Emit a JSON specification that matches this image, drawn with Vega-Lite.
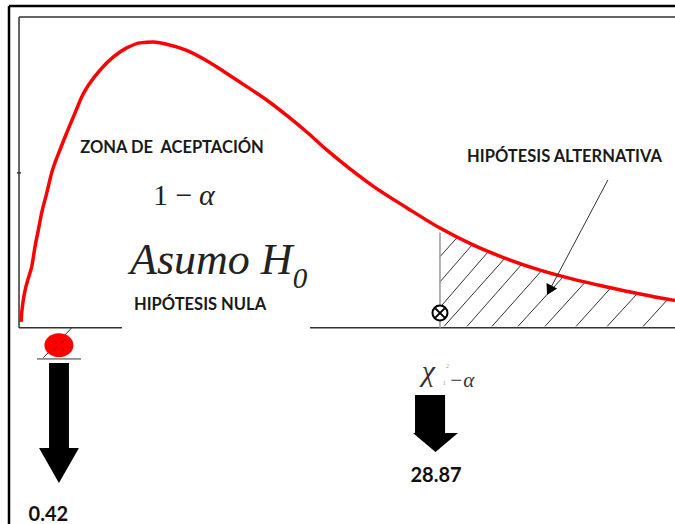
{
  "$schema": "https://vega.github.io/schema/vega-lite/v6.json",
  "width": 675,
  "height": 524,
  "autosize": {"type": "none"},
  "padding": 0,
  "background": "white",
  "config": {"view": {"stroke": null}},
  "datasets": {
    "outer": [
      {"x": -0.83, "y": 0.1149, "x2": -0.83, "y2": -0.07},
      {"x": -0.83, "y": 0.1149, "x2": 45.05, "y2": 0.1149}
    ],
    "inner": [
      {"x": -0.14, "y": 0.1109, "x2": 45.05, "y2": 0.1109},
      {"x": -0.14, "y": 0.1109, "x2": -0.14, "y2": 0},
      {"x": -0.14, "y": 0, "x2": 6.95, "y2": 0},
      {"x": 19.91, "y": 0, "x2": 45.05, "y2": 0},
      {"x": -0.28, "y": 0.0553, "x2": 0.0, "y2": 0.0553}
    ],
    "hatch": [
      {"x": 28.86, "y": 0.0254, "x2": 30.07, "y2": 0.0324},
      {"x": 28.86, "y": 0.0164, "x2": 31.07, "y2": 0.0296},
      {"x": 28.86, "y": 0.0073, "x2": 32.17, "y2": 0.0271},
      {"x": 29.14, "y": 0.0005, "x2": 33.34, "y2": 0.0249},
      {"x": 30.72, "y": 0.0005, "x2": 34.51, "y2": 0.0228},
      {"x": 32.44, "y": 0.0005, "x2": 35.89, "y2": 0.0206},
      {"x": 34.23, "y": 0.0005, "x2": 37.33, "y2": 0.0181},
      {"x": 36.09, "y": 0.0005, "x2": 38.88, "y2": 0.0164},
      {"x": 38.23, "y": 0.0005, "x2": 40.68, "y2": 0.0146},
      {"x": 40.37, "y": 0.0005, "x2": 42.47, "y2": 0.0123},
      {"x": 42.85, "y": 0.0005, "x2": 44.57, "y2": 0.0103},
      {"x": 1.53, "y": -0.0107, "x2": 3.49, "y2": 0.0},
      {"x": 1.10, "y": -0.0111, "x2": 4.13, "y2": -0.0111}
    ],
    "critical": [
      {"x": 28.86, "y": 0.0340, "x2": 28.86, "y2": 0}
    ],
    "pointer": [
      {"x": 40.43, "y": 0.0528, "x2": 36.40, "y2": 0.0134}
    ],
    "pointerHead": [
      {"x": 36.40, "y": 0.0134}
    ],
    "curve": [
      {"x": 0.0, "y": 0.0021}, {"x": 0.05, "y": 0.0057}, {"x": 0.57, "y": 0.0189},
      {"x": 0.73, "y": 0.0217}, {"x": 0.96, "y": 0.0289}, {"x": 1.19, "y": 0.0349},
      {"x": 1.42, "y": 0.0410}, {"x": 1.77, "y": 0.0481}, {"x": 2.11, "y": 0.0553},
      {"x": 2.68, "y": 0.0635}, {"x": 3.14, "y": 0.0695}, {"x": 3.72, "y": 0.0767},
      {"x": 4.18, "y": 0.0824}, {"x": 4.75, "y": 0.0874}, {"x": 5.44, "y": 0.0920},
      {"x": 6.36, "y": 0.0967}, {"x": 7.28, "y": 0.0999}, {"x": 8.19, "y": 0.1017},
      {"x": 9.11, "y": 0.1020}, {"x": 10.03, "y": 0.1012}, {"x": 11.41, "y": 0.0990},
      {"x": 12.79, "y": 0.0953}, {"x": 14.17, "y": 0.0908}, {"x": 15.55, "y": 0.0861},
      {"x": 16.92, "y": 0.0813}, {"x": 18.30, "y": 0.0758}, {"x": 19.68, "y": 0.0699},
      {"x": 21.06, "y": 0.0635}, {"x": 21.97, "y": 0.0596}, {"x": 24.25, "y": 0.0506},
      {"x": 26.59, "y": 0.0428}, {"x": 28.86, "y": 0.0356}, {"x": 31.13, "y": 0.0296},
      {"x": 33.48, "y": 0.0246}, {"x": 35.75, "y": 0.0206}, {"x": 38.02, "y": 0.0174},
      {"x": 40.37, "y": 0.0146}, {"x": 42.64, "y": 0.0121}, {"x": 44.91, "y": 0.0099},
      {"x": 45.05, "y": 0.0098}
    ],
    "lowerValue": [
      {"x": 2.61, "y": -0.0062}
    ],
    "upperValue": [
      {"x": 28.86, "y": 0.0053}
    ],
    "shafts": [
      {"x": 1.93, "x2": 3.30, "y": -0.0125, "y2": -0.0431},
      {"x": 27.14, "x2": 29.21, "y": -0.0240, "y2": -0.0377}
    ],
    "heads": [
      {"id": "a", "x": 1.24, "y": -0.0429, "y2": -0.0429},
      {"id": "a", "x": 2.61, "y": -0.0429, "y2": -0.0554},
      {"id": "a", "x": 3.99, "y": -0.0429, "y2": -0.0429},
      {"id": "b", "x": 27.00, "y": -0.0375, "y2": -0.0375},
      {"id": "b", "x": 28.55, "y": -0.0375, "y2": -0.0443},
      {"id": "b", "x": 30.10, "y": -0.0375, "y2": -0.0375}
    ],
    "labels": [
      {"x": 10.40, "y": 0.0642, "t": "ZONA DE\u00a0 ACEPTACIÓN"},
      {"x": 12.33, "y": 0.0082, "t": "HIPÓTESIS NULA"},
      {"x": 37.44, "y": 0.0610, "t": "HIPÓTESIS ALTERNATIVA"}
    ],
    "values": [
      {"x": 1.88, "y": -0.0668, "t": "0.42"},
      {"x": 28.59, "y": -0.0527, "t": "28.87"}
    ],
    "one": [{"x": 9.09, "y": 0.0438, "t": "1 −"}],
    "alpha": [{"x": 12.26, "y": 0.0438, "t": "α"}],
    "asumo": [{"x": 7.51, "y": 0.0192, "t": "Asumo H"}],
    "sub0": [{"x": 18.72, "y": 0.0142, "t": "0"}],
    "chi": [{"x": 27.60, "y": -0.0190, "t": "χ"}],
    "chiSub": [{"x": 29.48, "y": -0.0211, "t": "−α"}],
    "tiny": [
      {"x": 29.27, "y": -0.0143, "t": "2"},
      {"x": 29.05, "y": -0.0205, "t": "1"}
    ]
  },
  "encoding": {
    "x": {"field": "x", "type": "quantitative", "scale": {"domain": [-1.45, 45.05], "nice": false, "zero": false}, "axis": null},
    "y": {"field": "y", "type": "quantitative", "scale": {"domain": [-0.07, 0.117], "nice": false, "zero": false}, "axis": null}
  },
  "layer": [
    {
      "data": {"name": "outer"},
      "mark": {"type": "rule", "color": "black", "strokeWidth": 2.5},
      "encoding": {"x2": {"field": "x2"}, "y2": {"field": "y2"}}
    },
    {
      "data": {"name": "inner"},
      "mark": {"type": "rule", "color": "#333333", "strokeWidth": 1.5},
      "encoding": {"x2": {"field": "x2"}, "y2": {"field": "y2"}}
    },
    {
      "data": {"name": "hatch"},
      "mark": {"type": "rule", "color": "#333333", "strokeWidth": 1},
      "encoding": {"x2": {"field": "x2"}, "y2": {"field": "y2"}}
    },
    {
      "data": {"name": "critical"},
      "mark": {"type": "rule", "color": "#9a9a9a", "strokeWidth": 1.5},
      "encoding": {"x2": {"field": "x2"}, "y2": {"field": "y2"}}
    },
    {
      "data": {"name": "curve"},
      "mark": {"type": "line", "color": "#ff0000", "strokeWidth": 3.5, "interpolate": "monotone"},
      "encoding": {}
    },
    {
      "data": {"name": "pointer"},
      "mark": {"type": "rule", "color": "#333333", "strokeWidth": 1},
      "encoding": {"x2": {"field": "x2"}, "y2": {"field": "y2"}}
    },
    {
      "data": {"name": "pointerHead"},
      "mark": {"type": "point", "shape": "triangle-down", "size": 144, "filled": true, "color": "black", "opacity": 1, "angle": 27.6}
    },
    {
      "data": {"name": "lowerValue"},
      "mark": {"type": "point", "shape": "M1,0A1,0.82,0,1,1,-1,0A1,0.82,0,1,1,1,0Z", "size": 841, "filled": true, "color": "#ff0000", "opacity": 1}
    },
    {
      "data": {"name": "lowerValue"},
      "mark": {"type": "point", "shape": "M-0.5,-0.45L-0.22,-0.2M0.5,-0.45L0.22,-0.2M-0.5,0.45L-0.22,0.2M0.5,0.45L0.22,0.2", "size": 400, "filled": false, "color": "#b00000", "strokeWidth": 1.5, "opacity": 0.7}
    },
    {
      "data": {"name": "upperValue"},
      "mark": {"type": "point", "shape": "circle", "size": 225, "filled": true, "fill": "white", "stroke": "black", "strokeWidth": 2, "opacity": 1}
    },
    {
      "data": {"name": "upperValue"},
      "mark": {"type": "point", "shape": "M-0.62,-0.62L0.62,0.62M-0.62,0.62L0.62,-0.62", "size": 225, "filled": false, "color": "black", "strokeWidth": 2, "opacity": 1}
    },
    {
      "data": {"name": "shafts"},
      "mark": {"type": "rect", "color": "black"},
      "encoding": {"x2": {"field": "x2"}, "y2": {"field": "y2"}}
    },
    {
      "data": {"name": "heads"},
      "mark": {"type": "area", "color": "black", "opacity": 1},
      "encoding": {"y2": {"field": "y2"}, "detail": {"field": "id"}}
    },
    {
      "data": {"name": "labels"},
      "mark": {"type": "text", "font": "Lato", "fontWeight": "bold", "fontSize": 16.5, "color": "#1a1a1a", "align": "center", "baseline": "middle"},
      "encoding": {"text": {"field": "t"}}
    },
    {
      "data": {"name": "values"},
      "mark": {"type": "text", "font": "Lato", "fontWeight": "bold", "fontSize": 20, "color": "#111111", "align": "center", "baseline": "middle"},
      "encoding": {"text": {"field": "t"}}
    },
    {
      "data": {"name": "one"},
      "mark": {"type": "text", "font": "Liberation Serif", "fontSize": 30, "color": "#222222", "align": "left", "baseline": "alphabetic"},
      "encoding": {"text": {"field": "t"}}
    },
    {
      "data": {"name": "alpha"},
      "mark": {"type": "text", "font": "Liberation Serif", "fontStyle": "italic", "fontSize": 30, "color": "#222222", "align": "left", "baseline": "alphabetic"},
      "encoding": {"text": {"field": "t"}}
    },
    {
      "data": {"name": "asumo"},
      "mark": {"type": "text", "font": "Liberation Serif", "fontStyle": "italic", "fontSize": 44, "color": "#222222", "align": "left", "baseline": "alphabetic"},
      "encoding": {"text": {"field": "t"}}
    },
    {
      "data": {"name": "sub0"},
      "mark": {"type": "text", "font": "Liberation Serif", "fontStyle": "italic", "fontSize": 29, "color": "#222222", "align": "left", "baseline": "alphabetic"},
      "encoding": {"text": {"field": "t"}}
    },
    {
      "data": {"name": "chi"},
      "mark": {"type": "text", "font": "Liberation Serif", "fontStyle": "italic", "fontSize": 30, "color": "#333333", "align": "left", "baseline": "alphabetic"},
      "encoding": {"text": {"field": "t"}}
    },
    {
      "data": {"name": "chiSub"},
      "mark": {"type": "text", "font": "Liberation Serif", "fontStyle": "italic", "fontSize": 21, "color": "#333333", "align": "left", "baseline": "alphabetic"},
      "encoding": {"text": {"field": "t"}}
    },
    {
      "data": {"name": "tiny"},
      "mark": {"type": "text", "font": "Liberation Serif", "fontSize": 6, "color": "#999999", "align": "left", "baseline": "alphabetic"},
      "encoding": {"text": {"field": "t"}}
    }
  ]
}
